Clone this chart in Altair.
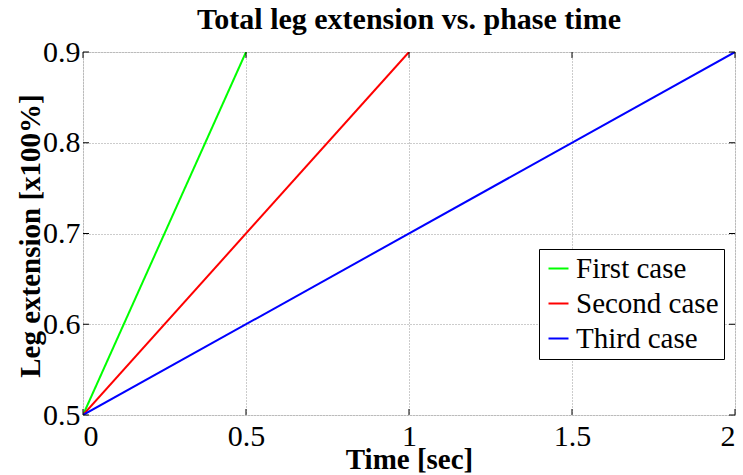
import altair as alt
import pandas as pd

cases = ["First case", "Second case", "Third case"]
colors = ["#00ff00", "#ff0000", "#0000ff"]
time_first = [0.0, 0.5]
time_second = [0.0, 1.0]
time_third = [0.0, 2.0]
ext_values = [0.5, 0.9]
x_ticks = [0, 0.5, 1, 1.5, 2]
y_ticks = [0.5, 0.6, 0.7, 0.8, 0.9]

rows = []
for case, times in zip(cases, [time_first, time_second, time_third]):
    for t, e in zip(times, ext_values):
        rows.append({"case": case, "time": t, "ext": e})
df = pd.DataFrame(rows)

FONT = "Times New Roman, Liberation Serif, Times, serif"
W, H = 652, 363

xs = alt.Scale(domain=[0, 2], nice=False)
ys = alt.Scale(domain=[0.5, 0.9], nice=False)

lines = alt.Chart(df).mark_line(strokeWidth=2, clip=True).encode(
    x=alt.X("time:Q", scale=xs, axis=alt.Axis(
        values=x_ticks, title="Time [sec]", format="~g", grid=True,
        gridDash=[1, 2], gridColor="#999999", labelFontSize=30, labelFont=FONT,
        titleFont=FONT, titleFontSize=29, titleFontWeight="bold", tickSize=0,
        labelPadding=6, domain=False, labelColor="black", titleColor="black",
        titleX=W / 2, titleY=53, titleBaseline="alphabetic")),
    y=alt.Y("ext:Q", scale=ys, axis=alt.Axis(
        values=y_ticks, title="Leg extension [x100%]", format="~g", grid=True,
        gridDash=[1, 2], gridColor="#999999", labelFontSize=30, labelFont=FONT,
        titleFont=FONT, titleFontSize=29, titleFontWeight="bold", tickSize=0,
        labelPadding=3, domain=False, labelColor="black", titleColor="black",
        titleX=-53, titleY=H / 2 + 2, titleBaseline="middle", titleAngle=270,
        titleAlign="center")),
    color=alt.Color("case:N", scale=alt.Scale(domain=cases, range=colors), legend=alt.Legend(
        title=None, orient="none", legendX=456, legendY=197, symbolType="stroke",
        symbolSize=400, symbolStrokeWidth=2, labelFont=FONT, labelFontSize=29,
        labelColor="black", strokeColor="black", fillColor="white", padding=5,
        rowPadding=5, labelOffset=3, symbolOffset=0, labelLimit=300)),
)

tick_df_x = pd.DataFrame({"t": x_ticks})
tick_df_y = pd.DataFrame({"e": y_ticks})
xt_bottom = alt.Chart(tick_df_x).mark_rule(color="black").encode(
    x=alt.X("t:Q", scale=xs), y=alt.value(H), y2=alt.value(H - 6))
xt_top = alt.Chart(tick_df_x).mark_rule(color="black").encode(
    x=alt.X("t:Q", scale=xs), y=alt.value(0), y2=alt.value(6))
yt_left = alt.Chart(tick_df_y).mark_rule(color="black").encode(
    y=alt.Y("e:Q", scale=ys), x=alt.value(0), x2=alt.value(6))
yt_right = alt.Chart(tick_df_y).mark_rule(color="black").encode(
    y=alt.Y("e:Q", scale=ys), x=alt.value(W), x2=alt.value(W - 6))

chart = alt.layer(lines, xt_bottom, xt_top, yt_left, yt_right).properties(
    width=W, height=H,
    title=alt.TitleParams("Total leg extension vs. phase time", font=FONT, fontSize=30,
                          fontWeight="bold", color="black", offset=2),
    autosize=alt.AutoSizeParams(type="none"),
    padding={"left": 83, "top": 52, "right": 8, "bottom": 60},
).configure_view(stroke="black", strokeWidth=1.5).configure(background="white")

chart.save("out.html", embed_options={"renderer": "svg", "actions": False})
